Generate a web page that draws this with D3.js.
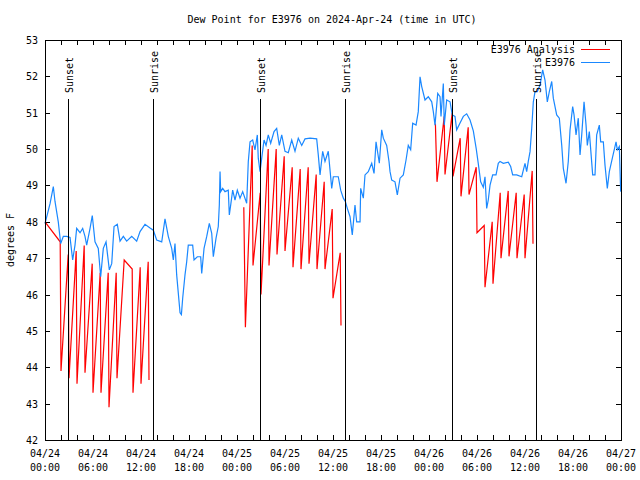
<!DOCTYPE html>
<html>
<head>
<meta charset="utf-8">
<script src="https://cdn.jsdelivr.net/npm/d3@7"></script>
<style>
  html, body { margin: 0; padding: 0; background: #fff; }
  svg { display: block; }
  text { font-family: "DejaVu Sans Mono", monospace; font-size: 10px; fill: #000; }
</style>
</head>
<body>
<svg id="chart" width="640" height="480"></svg>
<script>
// ---------- data (hours since 2024-04-24 00:00 UTC) ----------
const titleText = "Dew Point for E3976 on 2024-Apr-24 (time in UTC)";
const yLabelText = "degrees F";
const yTicks = [42, 43, 44, 45, 46, 47, 48, 49, 50, 51, 52, 53];

const blueName = "E3976";
const blueHours = [0.00,0.63,1.04,1.25,1.66,1.96,2.29,2.71,3.13,3.46,3.75,3.96,4.38,4.71,5.00,5.21,5.63,5.91,6.25,6.66,6.96,7.29,7.63,8.04,8.34,8.63,9.04,9.38,9.79,10.21,10.84,11.46,11.88,12.50,13.13,13.54,13.96,14.59,15.00,15.41,15.84,16.04,16.25,16.46,16.88,17.05,17.21,17.50,17.71,17.91,18.46,18.63,19.04,19.46,19.59,19.88,20.21,20.54,20.84,21.04,21.38,21.66,21.79,21.88,21.96,22.21,22.50,22.91,23.04,23.21,23.46,23.75,24.04,24.38,24.71,25.21,25.41,25.63,25.96,26.25,26.54,26.66,26.88,27.09,27.38,27.63,27.91,28.21,28.63,28.96,29.29,29.59,30.00,30.41,30.84,31.25,31.66,32.09,32.50,33.13,33.96,34.16,34.38,34.71,35.00,35.41,35.84,36.04,36.66,36.96,37.29,37.54,37.79,38.13,38.41,38.75,38.96,39.38,39.46,39.79,40.00,40.41,40.84,41.13,41.38,41.79,42.09,42.29,42.71,43.00,43.13,43.34,43.75,44.04,44.38,44.79,45.13,45.41,45.71,45.96,46.38,46.66,46.88,47.09,47.50,47.91,48.34,48.54,48.75,49.09,49.38,49.50,49.79,49.91,50.21,50.63,50.91,51.25,51.46,51.88,52.29,52.71,53.13,53.54,53.91,54.16,54.46,54.79,55.00,55.21,55.41,55.63,55.96,56.38,56.66,56.88,57.29,57.91,58.21,58.46,58.96,59.59,60.00,60.21,60.41,60.63,60.84,61.04,61.25,61.54,61.88,62.21,62.50,62.79,63.04,63.34,63.54,63.96,64.29,64.59,64.79,65.13,65.41,65.63,65.96,66.13,66.38,66.66,66.88,67.09,67.38,67.63,67.79,68.04,68.46,68.75,68.96,69.29,69.46,69.79,70.00,70.29,70.54,70.96,71.38,71.54,71.79,71.96];
const blueValues = [47.95,48.5,48.97,48.56,48.0,47.4,47.6,47.6,47.57,46.95,47.36,47.82,47.7,47.82,47.6,47.36,47.82,48.17,47.45,47.27,46.49,47.27,47.45,46.68,46.85,47.87,47.93,47.47,47.6,47.47,47.6,47.47,47.73,47.93,47.83,47.77,47.5,47.45,48.08,47.6,47.27,46.95,47.4,46.54,45.5,45.45,45.9,46.54,46.9,47.36,47.36,46.95,47.04,47.04,46.58,47.27,47.59,47.96,47.68,47.04,47.55,47.87,48.46,49.38,48.83,48.92,48.83,48.87,48.19,48.46,48.87,48.6,48.87,48.65,48.83,48.51,49.65,50.2,50.25,49.98,50.39,49.75,49.38,49.75,50.25,50.1,50.39,50.16,50.48,50.57,50.1,50.39,49.94,49.9,50.25,49.94,50.3,50.1,50.28,50.3,50.28,49.84,49.29,49.94,49.66,49.94,48.92,49.24,49.24,48.87,48.65,48.56,48.37,48.14,47.64,48.46,48.0,48.0,48.92,48.65,49.29,49.38,49.61,49.33,50.2,49.61,50.53,50.3,50.1,49.66,49.38,49.15,49.1,48.74,49.2,49.29,49.7,50.1,49.98,50.71,50.66,51.03,51.99,51.72,51.35,51.44,51.3,51.03,50.66,51.53,51.44,50.9,51.8,50.66,51.35,51.3,50.94,50.9,50.53,50.72,50.9,50.97,50.8,50.5,50.0,49.6,49.1,48.95,49.24,48.37,48.6,49.01,49.29,49.29,49.61,49.66,49.61,49.64,49.52,49.29,49.29,49.24,49.61,49.38,49.66,49.93,50.57,51.3,51.58,51.58,51.76,52.18,51.9,51.3,51.58,51.86,51.4,50.94,50.85,50.11,49.47,49.06,49.66,50.53,51.17,50.94,50.39,50.85,49.84,50.39,51.3,50.66,50.1,50.48,49.29,49.29,50.39,50.66,50.2,50.2,49.56,48.92,49.38,49.79,50.2,49.98,50.07,48.83];

const redName = "E3976 Analysis";
// three separate runs of the analysis series (gaps between them)
const redHours1 = [0.00,1.90,2.00,2.90,3.00,3.90,4.00,4.90,5.00,5.90,6.00,6.90,7.00,7.90,8.00,8.90,9.00,9.90,10.90,11.00,11.90,12.00,12.90,13.00];
const redValues1 = [48.0,47.45,43.9,47.1,43.7,47.2,43.55,47.35,43.85,46.85,43.3,46.6,43.3,46.6,42.9,46.6,43.7,46.95,46.7,43.3,46.75,43.55,46.9,43.65];
const redHours2 = [24.85,25.05,25.90,26.00,26.90,27.00,27.90,28.00,28.90,29.00,29.90,30.00,30.90,31.00,31.90,32.00,32.90,33.00,33.90,34.00,34.90,35.00,35.90,36.00,36.90,37.00];
const redValues2 = [48.4,45.1,50.1,46.8,48.8,46.0,50.0,46.8,50.0,47.1,49.8,47.2,49.5,46.75,49.45,46.7,49.5,46.85,49.3,46.7,49.1,46.7,48.35,45.9,47.15,45.15];
const redHours3 = [48.80,49.00,49.90,50.00,50.90,51.00,51.90,52.00,52.90,53.00,53.90,54.00,54.90,55.00,55.90,56.00,56.90,57.00,57.90,58.00,58.90,59.00,59.90,60.00,60.90,61.00];
const redValues3 = [50.7,49.1,50.9,49.3,51.0,49.25,50.3,48.7,50.6,48.75,49.5,47.7,47.9,46.2,48.0,46.3,48.8,47.0,48.85,47.05,48.8,47.0,48.75,47.0,49.4,47.4];

const eventHours = [2.91, 13.54, 26.88, 37.54, 50.92, 61.42];
const eventLabels = ["Sunset", "Sunrise", "Sunset", "Sunrise", "Sunset", "Sunrise"];

// ---------- setup ----------
const M = { left: 45, right: 621, top: 40, bottom: 440 };
const t0 = Date.UTC(2024, 3, 24);
const toDate = h => new Date(t0 + h * 3600000);

const svg = d3.select("#chart");
const x = d3.scaleUtc().domain([toDate(0), toDate(72)]).range([M.left, M.right]);
const y = d3.scaleLinear().domain([42, 53]).range([M.bottom, M.top]);

const BLUE = "#1a88ff", RED = "#ff0000";

// title
svg.append("text").attr("x", 332).attr("y", 23).attr("text-anchor", "middle").text(titleText);

// y label
svg.append("text").attr("transform", "translate(14,240) rotate(-90)")
  .attr("text-anchor", "middle").text(yLabelText);

// axes ticks (inward, mirrored)
const tickLen = 5;
const gL = svg.append("g").attr("transform", `translate(${M.left},0)`)
  .call(d3.axisLeft(y).tickValues(yTicks).tickSize(-tickLen).tickPadding(7).tickFormat(d3.format("d")));
const gR = svg.append("g").attr("transform", `translate(${M.right},0)`)
  .call(d3.axisRight(y).tickValues(yTicks).tickSize(-tickLen).tickFormat(""));
const gB = svg.append("g").attr("transform", `translate(0,${M.bottom})`)
  .call(d3.axisBottom(x).ticks(d3.utcHour.every(2)).tickSize(-tickLen).tickFormat(""));
const gT = svg.append("g").attr("transform", `translate(0,${M.top})`)
  .call(d3.axisTop(x).ticks(d3.utcHour.every(2)).tickSize(-tickLen).tickFormat(""));
[gL, gR, gB, gT].forEach(g => {
  g.select(".domain").remove();
  g.selectAll("line").attr("stroke", "#000").attr("shape-rendering", "crispEdges");
  g.selectAll("text").style("font-family", "DejaVu Sans Mono").style("font-size", "10px").attr("fill", "#000");
});
gL.selectAll("text").attr("dy", "0.35em");

// x labels (two lines)
const fmtDate = d3.utcFormat("%m/%d"), fmtTime = d3.utcFormat("%H:%M");
const xl = svg.append("g").selectAll("g").data(x.ticks(d3.utcHour.every(6))).join("g")
  .attr("transform", d => `translate(${x(d)},0)`);
xl.append("text").attr("y", 457).attr("text-anchor", "middle").text(d => fmtDate(d));
xl.append("text").attr("y", 471).attr("text-anchor", "middle").text(d => fmtTime(d));

// data lines
const line = d3.line().x(d => x(toDate(d[0]))).y(d => y(d[1]));
const zipPts = (hs, vs) => hs.map((h, i) => [h, vs[i]]);
[[redHours1, redValues1], [redHours2, redValues2], [redHours3, redValues3]].forEach(([hs, vs]) => {
  svg.append("path").datum(zipPts(hs, vs)).attr("d", line)
    .attr("fill", "none").attr("stroke", RED).attr("stroke-width", 1.2);
});
svg.append("path").datum(zipPts(blueHours, blueValues)).attr("d", line)
  .attr("fill", "none").attr("stroke", BLUE).attr("stroke-width", 1.2);

// sunrise / sunset markers
const ev = svg.append("g").selectAll("g").data(eventHours.map((h, i) => ({ h, label: eventLabels[i] }))).join("g");
ev.append("line")
  .attr("x1", d => Math.round(x(toDate(d.h))) + 0.5).attr("x2", d => Math.round(x(toDate(d.h))) + 0.5)
  .attr("y1", 99).attr("y2", M.bottom).attr("stroke", "#000").attr("shape-rendering", "crispEdges");
ev.append("text")
  .attr("transform", d => `translate(${Math.round(x(toDate(d.h))) + 5},93) rotate(-90)`)
  .attr("text-anchor", "start").text(d => d.label);

// border
svg.append("rect").attr("x", M.left + 0.5).attr("y", M.top + 0.5)
  .attr("width", M.right - M.left).attr("height", M.bottom - M.top)
  .attr("fill", "none").attr("stroke", "#000").attr("shape-rendering", "crispEdges");

// legend
const legend = [{ name: redName, color: RED, y: 49 }, { name: blueName, color: BLUE, y: 62 }];
const lg = svg.append("g").selectAll("g").data(legend).join("g");
lg.append("text").attr("x", 575).attr("y", d => d.y).attr("dy", "0.35em").attr("text-anchor", "end").text(d => d.name);
lg.append("line").attr("x1", 581).attr("x2", 610).attr("y1", d => d.y + 0.5).attr("y2", d => d.y + 0.5)
  .attr("stroke", d => d.color).attr("stroke-width", 1).attr("shape-rendering", "crispEdges");
</script>
</body>
</html>
